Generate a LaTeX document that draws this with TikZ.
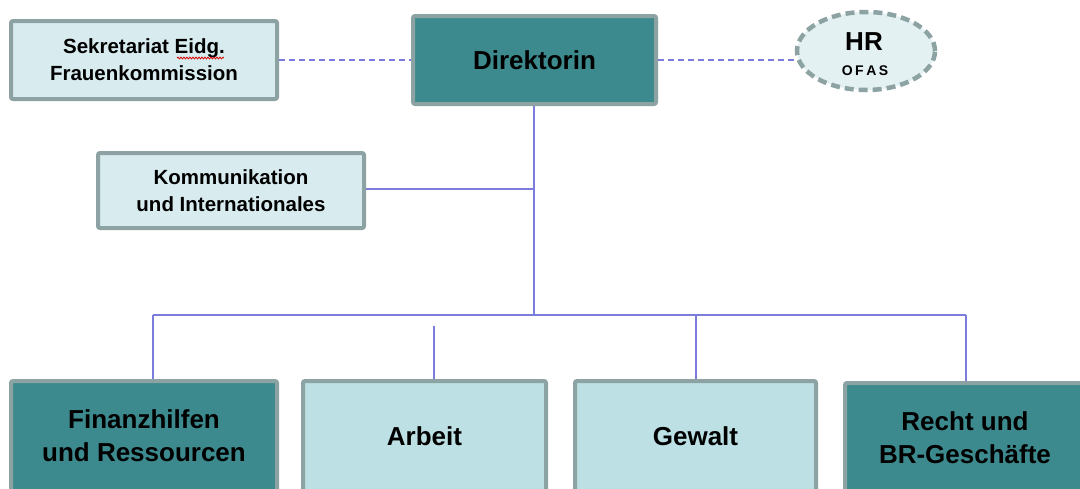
\documentclass[tikz,border=0pt]{standalone}
\usepackage{fontspec}
\setmainfont{Liberation Sans}
\usetikzlibrary{shapes.geometric,decorations.pathmorphing,backgrounds}
\definecolor{tealA}{HTML}{3C8A8E}
\definecolor{lightA}{HTML}{D8ECEF}
\definecolor{lightB}{HTML}{BCE0E3}
\definecolor{ellfill}{HTML}{E4F1F3}
\definecolor{bordergray}{HTML}{8CA2A3}
\definecolor{linecol}{HTML}{7C7CDC}
\tikzset{
  box/.style={draw=bordergray, line width=4pt, rounded corners=2pt, inner sep=0pt, align=center, text=black},
  smallfont/.style={font=\bfseries\fontsize{20.5}{27}\selectfont},
  bigfont/.style={font=\bfseries\fontsize{26}{33}\selectfont},
  conn/.style={draw=linecol, line width=1.5pt},
  dconn/.style={conn, dash pattern=on 6pt off 4pt}
}
\begin{document}
\begin{tikzpicture}[x=1pt,y=-1pt]
\useasboundingbox (0,0) rectangle (1080,488);
\clip (0,0) rectangle (1080,488);

\node[box, smallfont, fill=lightA, minimum width=266pt, minimum height=78pt] (sek) at (144,60) {Sekretariat Eidg.\\Frauenkommission};
\node[box, bigfont, fill=tealA, minimum width=243pt, minimum height=88pt] (dir) at (534.5,60) {Direktorin};
\node[ellipse, draw=bordergray, line width=4.5pt, dash pattern=on 9pt off 5pt, fill=ellfill, minimum width=138pt, minimum height=78pt, inner sep=0pt] (hr) at (866,51) {};
\node[font=\bfseries\fontsize{26}{26}\selectfont] (hrt) at (864,42) {HR};
\node[font=\bfseries\fontsize{14}{14}\selectfont] (ofas) at (865,71) {O\kern2.5pt F\kern2.5pt A\kern2.5pt S};
\node[box, smallfont, fill=lightA, minimum width=266pt, minimum height=75pt] (kom) at (231,190.5) {Kommunikation\\und Internationales};

\node[box, bigfont, fill=tealA, minimum width=266pt, minimum height=110pt] (fin) at (144,436) {Finanzhilfen\\und Ressourcen};
\node[box, bigfont, fill=lightB, minimum width=243pt, minimum height=110pt] (arb) at (424.5,436) {Arbeit};
\node[box, bigfont, fill=lightB, minimum width=241pt, minimum height=110pt] (gew) at (695.5,436) {Gewalt};
\node[box, bigfont, fill=tealA, minimum width=240pt, minimum height=110pt] (rec) at (965,438) {Recht und\\BR-Geschäfte};

\draw[red!85!black, line width=0.8pt, decorate, decoration={snake, amplitude=0.9pt, segment length=3pt}] (177,58) -- (224,58);

\coordinate (busL) at (153,315);
\coordinate (busR) at (966,315);
\coordinate (trunk) at (534,315);
\coordinate (komline) at (534,189);
\coordinate (gewx) at (696,315);
\coordinate (arbtop) at (434,326);

\begin{scope}[on background layer]
\draw[dconn] (sek.east) -- (dir.west);
\draw[dconn] (dir.east) -- (dir.east -| hr.west);
\draw[conn] (trunk |- dir.south) -- (trunk);
\draw[conn] (kom.east |- komline) -- (komline);
\draw[conn] (busL) -- (busR);
\draw[conn] (busL) -- (busL |- fin.north);
\draw[conn] (arbtop) -- (arbtop |- arb.north);
\draw[conn] (gewx) -- (gewx |- gew.north);
\draw[conn] (busR) -- (busR |- rec.north);
\end{scope}
\end{tikzpicture}
\end{document}
